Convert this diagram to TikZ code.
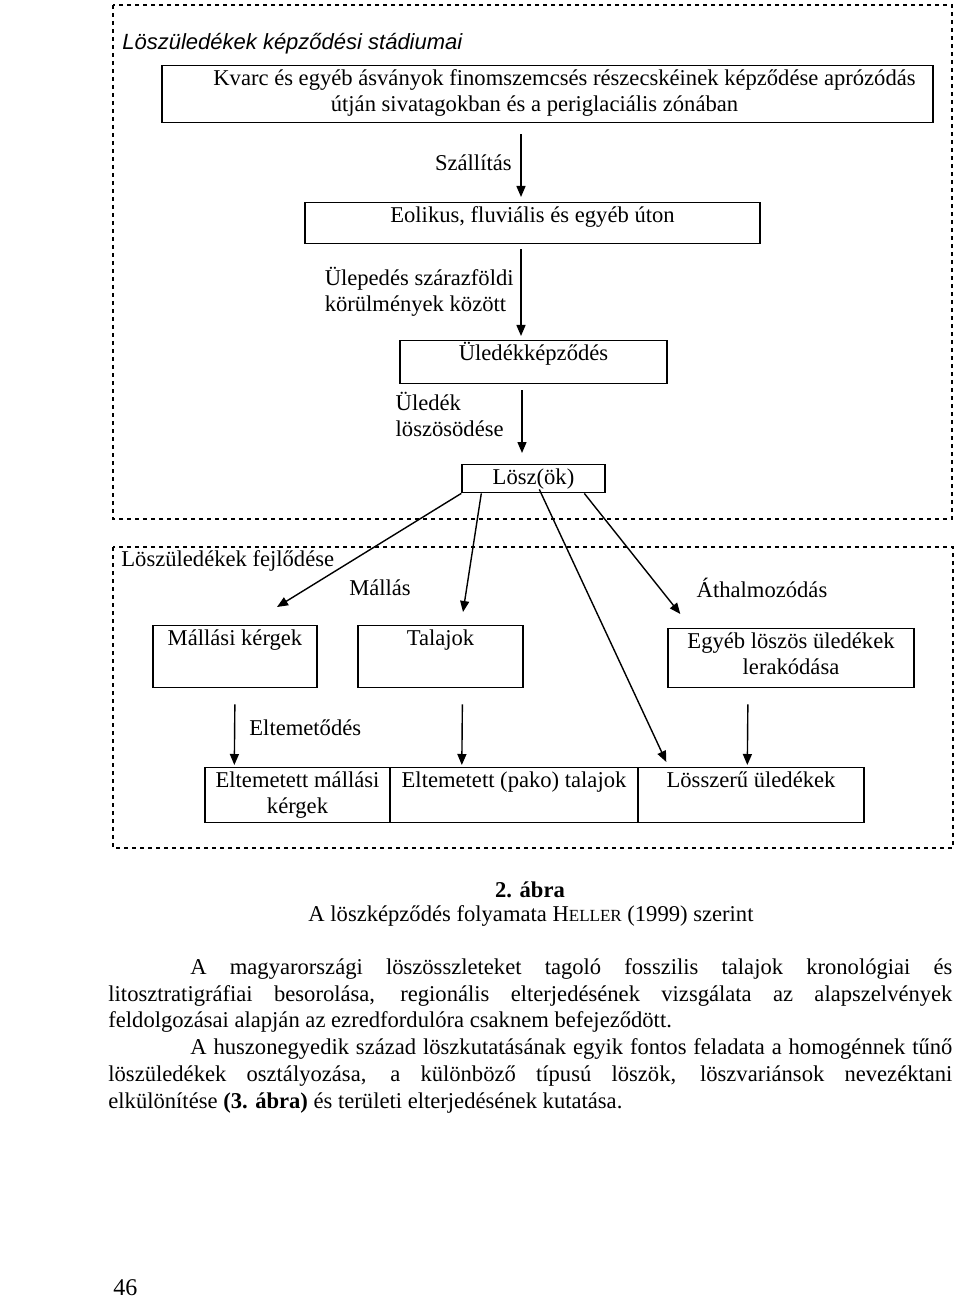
\documentclass[tikz,border=0pt]{standalone}
\usepackage{fontspec}
\setmainfont{Liberation Serif}
\setsansfont{Liberation Sans}
\usetikzlibrary{arrows.meta}
\tikzset{
  box/.style={draw,line width=.7pt,anchor=north,align=center,inner xsep=2pt,inner ysep=2.3pt,text height=7.7pt},
  twoline/.style={text height=20.7pt},
  frame/.style={draw,line width=.7pt,dash pattern=on 2pt off 2pt},
  arr/.style={->,line width=.7pt}
}
\begin{document}
\begin{tikzpicture}[>={Triangle[length=5.5pt,width=4.5pt]},x=.5pt,y=-.5pt,font=\fontsize{11.3}{13}\selectfont]
\path[fill=white] (0,0) rectangle (960,1299);
\useasboundingbox (0,0) rectangle (960,1299);
\draw[frame] (113,5) rectangle (952,519);
\draw[frame] (113,547) rectangle (953,848);
\node[anchor=base west,inner sep=0pt,font=\sffamily\itshape\fontsize{11}{13}\selectfont] (title) at (122,50) {Löszüledékek képződési stádiumai};
\node[box,twoline,minimum width=385.5pt,text depth=3.2pt] (kvarc) at (547.5,65)
  {\hspace*{17pt}Kvarc és egyéb ásványok finomszemcsés részecskéinek képződése aprózódás\\útján sivatagokban és a periglaciális zónában\hspace*{13pt}};
\node[box,minimum width=227.5pt,text depth=8.2pt] (eol) at (532.5,202) {Eolikus, fluviális és egyéb úton};
\node[box,minimum width=133.5pt,text depth=9.2pt] (uled) at (533.5,340) {Üledékképződés};
\node[box,minimum width=71.5pt,text depth=1.7pt] (losz) at (533.5,464) {Lösz(ök)};
\draw[arr,shorten <=5.5pt,shorten >=2.5pt] ([xshift=-13.25pt]kvarc.south) -- ([xshift=-5.75pt]eol.north)
  node[midway,left=1pt] (szall) {Szállítás};
\draw[arr,shorten <=2.5pt,shorten >=2pt] ([xshift=-5.75pt]eol.south) -- ([xshift=-6.25pt]uled.north)
  node[midway,left=0pt,align=left] (ulep) {Ülepedés szárazföldi\\körülmények között};
\draw[arr,shorten <=3pt,shorten >=5.5pt] ([xshift=-5.75pt]uled.south) -- ([xshift=-5.75pt]losz.north)
  node[pos=.38,left=5.5pt,align=left] (losod) {Üledék\\löszösödése};
\node[anchor=base west,inner sep=0pt] (fejl) at (121,566) {Löszüledékek fejlődése};
\node (mallas) at (380,588) {Mállás};
\node (athalm) at (762,588) {Áthalmozódás};
\node[box,minimum width=82pt,text depth=18.7pt] (mallasi) at (235,625) {Mállási kérgek};
\node[box,minimum width=82.5pt,text depth=18.7pt] (talaj) at (440.5,625) {Talajok};
\node[box,twoline,minimum width=123pt,text depth=4.2pt] (egyeb) at (791,628) {Egyéb löszös üledékek\\lerakódása};
\node[box,twoline,minimum width=92.5pt,text depth=2.2pt] (emk) at (297.5,767) {Eltemetett mállási\\kérgek};
\node[box,minimum width=124pt,text depth=15.2pt] (ept) at (514,767) {Eltemetett (pako) talajok};
\node[box,minimum width=113pt,text depth=15.2pt] (lue) at (751,767) {Lösszerű üledékek};
\draw[arr] (losz.south west) -- ([shift={(21pt,9pt)}]mallasi.north);
\draw[arr] ([xshift=10pt]losz.south west) -- ([shift={(11.25pt,6.5pt)}]talaj.north);
\draw[arr] ([shift={(39pt,2pt)}]losz.south west) -- ([shift={(14.5pt,2.5pt)}]lue.north west);
\draw[arr] ([xshift=61.5pt]losz.south west) -- ([shift={(6.5pt,7pt)}]egyeb.north west);
\draw[arr,shorten <=8pt,shorten >=1pt] (mallasi.south) -- ([xshift=15pt]emk.north west)
  node[midway,right=3.7pt] (eltem) {Eltemetődés};
\draw[arr,shorten <=8pt,shorten >=1pt] ([xshift=11pt]talaj.south) -- ([xshift=36.25pt]ept.north west);
\draw[arr,shorten <=8pt,shorten >=1pt] ([xshift=-21.5pt]egyeb.south) -- ([xshift=55pt]lue.north west);
\node[font=\bfseries\fontsize{11.3}{13}\selectfont] (abra) at (530,890) {2. ábra};
\node (cap) at (531,916) {A löszképződés folyamata H{\fontsize{8.5}{10}\selectfont ELLER} (1999) szerint};
\node[anchor=north west,inner sep=0pt,text width=422pt,align=justify,font=\fontsize{11.3}{13.4}\selectfont] (szoveg) at (108,958)
  {\hspace*{41pt}A magyarországi löszösszleteket tagoló fosszilis talajok kronológiai és\linebreak
  litosztratigráfiai besorolása, regionális elterjedésének vizsgálata az alapszelvények\linebreak
  feldolgozásai alapján az ezredfordulóra csaknem befejeződött.\par
  \hspace*{41pt}A huszonegyedik század löszkutatásának egyik fontos feladata a homogénnek tűnő\linebreak
  löszüledékek osztályozása, a különböző típusú löszök, löszvariánsok nevezéktani\linebreak
  elkülönítése \textbf{(3. ábra)} és területi elterjedésének kutatása.};
\node[anchor=base west,inner sep=0pt,font=\fontsize{12}{14}\selectfont] (oldal) at (113,1295) {46};
\end{tikzpicture}
\end{document}
